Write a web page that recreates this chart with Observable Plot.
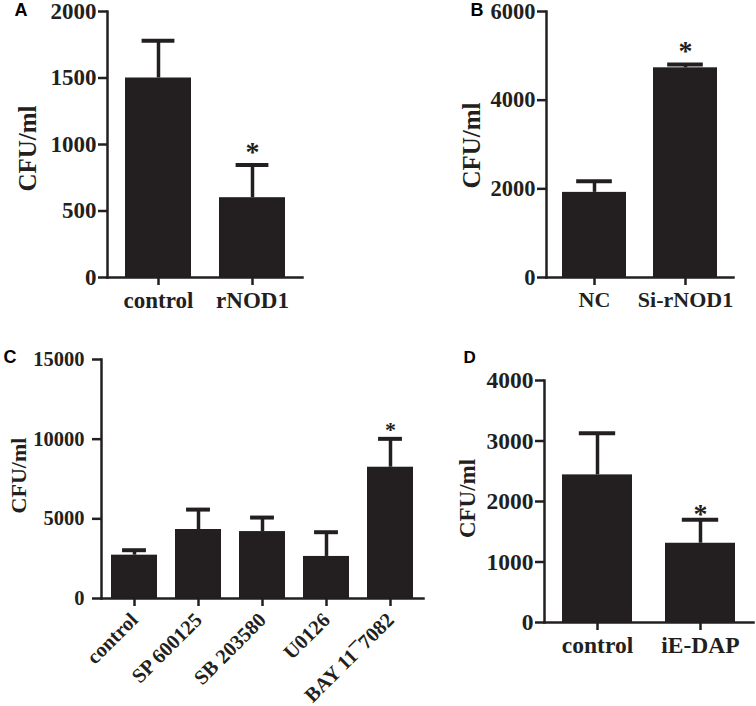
<!DOCTYPE html>
<html><head><meta charset="utf-8">
<script src="https://cdn.jsdelivr.net/npm/d3@7"></script>
<script src="https://cdn.jsdelivr.net/npm/@observablehq/plot@0.6"></script>
<style>
body{margin:0;background:#fff;}
#wrap{position:relative;width:756px;height:706px;overflow:hidden;background:#fff;}
#wrap > svg{position:absolute;}
</style></head><body><div id="wrap"></div>
<script>
// ---- Data ----
const yLabel = "CFU/ml";
const panelLetters = ["A", "B", "C", "D"];

const catsA = ["control", "rNOD1"];
const meanA = [1500, 600];
const errA = [280, 245];
const starA = [false, true];
const ticksA = [0, 500, 1000, 1500, 2000];

const catsB = ["NC", "Si-rNOD1"];
const meanB = [1920, 4730];
const errB = [250, 75];
const starB = [false, true];
const ticksB = [0, 2000, 4000, 6000];

const catsC = ["control", "SP 600125", "SB 203580", "U0126", "BAY 11\u00AF7082"];
const meanC = [2720, 4330, 4200, 2640, 8240];
const errC = [310, 1250, 880, 1520, 1780];
const starC = [false, false, false, false, true];
const ticksC = [0, 5000, 10000, 15000];

const catsD = ["control", "iE-DAP"];
const meanD = [2440, 1310];
const errD = [690, 390];
const starD = [false, true];
const ticksD = [0, 1000, 2000, 3000, 4000];

// ---- Drawing ----
const INK = "#231f20";
const wrap = document.getElementById("wrap");

function panel(o) {
  const data = o.cats.map((c, i) => ({cat: c, mean: o.mean[i], top: o.mean[i] + o.err[i], star: o.star[i]}));
  const range = o.width - o.mL - o.mR;
  const step = range / (o.cats.length - o.pi + 2 * o.po);
  const bw = step * (1 - o.pi);
  const capInset = bw * o.capFrac;
  const frameMidY = (o.mT + o.height - o.mB) / 2;
  const svg = Plot.plot({
    width: o.width, height: o.height,
    marginLeft: o.mL, marginTop: o.mT, marginBottom: o.mB, marginRight: o.mR,
    style: {fontFamily: "'Liberation Serif', 'Times New Roman', serif", fontWeight: "bold", color: INK, background: "transparent"},
    x: {domain: o.cats, paddingInner: o.pi, paddingOuter: o.po, align: 0.5, label: null},
    y: {domain: [0, o.ticks[o.ticks.length - 1]], label: null},
    marks: [
      Plot.barY(data, {x: "cat", y: "mean", fill: INK}),
      Plot.ruleX(data, {x: "cat", y1: "mean", y2: "top", stroke: INK, strokeWidth: 3.5}),
      Plot.tickY(data, {x: "cat", y: "top", stroke: INK, strokeWidth: 4, insetLeft: capInset, insetRight: capInset}),
      Plot.text(data.filter(d => d.star), {x: "cat", y: "top", text: () => "*", fontSize: o.starSize, lineAnchor: "bottom", dy: o.starDy, fill: INK}),
      Plot.frame({anchor: "left", stroke: INK, strokeWidth: 2.5}),
      Plot.frame({anchor: "bottom", stroke: INK, strokeWidth: 2.5}),
      Plot.axisY({ticks: o.ticks, tickFormat: d => String(d), tickSize: 9, tickPadding: o.yPad, fontSize: o.tickFont, strokeWidth: 2.5, label: null}),
      Plot.axisX({tickSize: 8, tickPadding: o.xPad, fontSize: o.catFont, strokeWidth: 2.5, tickRotate: o.rot || 0, label: null}),
      Plot.text([yLabel], {frameAnchor: "left", text: d => d, rotate: -90, textAnchor: "middle", lineAnchor: "middle", fontSize: o.labelFont, dx: o.labelX - o.mL, dy: o.labelY - frameMidY, fill: INK}),
      Plot.text([o.letter], {frameAnchor: "top-left", text: d => d, fontSize: o.letterFont, fontFamily: "'Liberation Sans', Arial, sans-serif", fontWeight: "bold", textAnchor: "start", lineAnchor: "bottom", dx: o.letterX - o.mL, dy: o.letterBase - o.mT, fill: "#000"})
    ]
  });
  svg.style.left = o.left + "px";
  svg.style.top = o.top + "px";
  wrap.appendChild(svg);
}

panel({cats: catsA, mean: meanA, err: errA, star: starA, ticks: ticksA, letter: panelLetters[0],
  left: 0, top: 0, width: 378, height: 320, mL: 107, mT: 11, mB: 43, mR: 76,
  pi: 0.30, po: 0.178, capFrac: 0.25, tickFont: 23, catFont: 23, labelFont: 25, xPad: 6, yPad: 2,
  labelX: 27, labelY: 148, letterX: 14, letterBase: 15, letterFont: 18, starSize: 28, starDy: -4});

panel({cats: catsB, mean: meanB, err: errB, star: starB, ticks: ticksB, letter: panelLetters[1],
  left: 378, top: 0, width: 378, height: 320, mL: 168, mT: 11, mB: 43, mR: 23,
  pi: 0.295, po: 0.17, capFrac: 0.22, tickFont: 22.5, catFont: 22, labelFont: 25, xPad: 6, yPad: 2,
  labelX: 93, labelY: 145, letterX: 92, letterBase: 15, letterFont: 18, starSize: 28, starDy: -4});

panel({cats: catsC, mean: meanC, err: errC, star: starC, ticks: ticksC, letter: panelLetters[2],
  left: 0, top: 320, width: 430, height: 386, mL: 101, mT: 39, mB: 108, mR: 7,
  pi: 0.285, po: 0.14, capFrac: 0.24, tickFont: 20.5, catFont: 20.5, labelFont: 22, xPad: 10, yPad: 8, rot: -45,
  labelX: 18.5, labelY: 155, letterX: 3, letterBase: 42, letterFont: 18, starSize: 22, starDy: -2});

panel({cats: catsD, mean: meanD, err: errD, star: starD, ticks: ticksD, letter: panelLetters[3],
  left: 430, top: 320, width: 326, height: 386, mL: 114, mT: 60, mB: 84, mR: 3,
  pi: 0.32, po: 0.174, capFrac: 0.24, tickFont: 23.5, catFont: 23.5, labelFont: 23, xPad: 6, yPad: 2,
  labelX: 37.5, labelY: 178, letterX: 33, letterBase: 42, letterFont: 17, starSize: 28, starDy: 3});
</script>
</body></html>
